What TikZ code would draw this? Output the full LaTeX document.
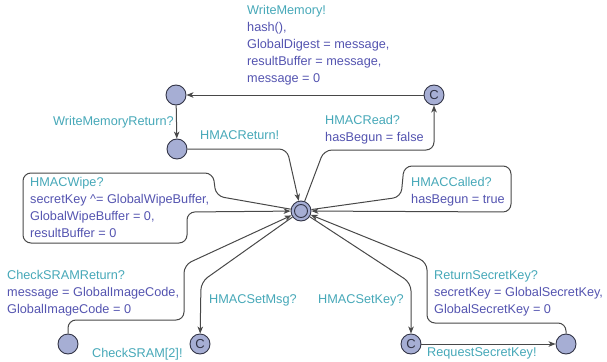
\documentclass[tikz,border=0pt]{standalone}
\usepackage{fontspec}
\setmainfont{Liberation Sans}
\usetikzlibrary{arrows.meta}
\definecolor{synccol}{RGB}{70,168,184}
\definecolor{asgcol}{RGB}{84,84,176}
\definecolor{locfill}{RGB}{166,174,212}
\definecolor{locdraw}{RGB}{50,52,70}
\definecolor{edgecol}{RGB}{72,72,72}
\newcommand\syn[1]{\textcolor{synccol}{#1}}
\newcommand\asg[1]{\textcolor{asgcol}{#1}}
\begin{document}
\begin{tikzpicture}[x=1pt,y=-1pt,
  loc/.style={circle,draw=locdraw,fill=locfill,line width=0.9pt,minimum size=20pt,inner sep=0pt,font=\fontsize{13}{13}\selectfont\color{locdraw}},
  edge/.style={draw=edgecol,line width=1pt,rounded corners=8pt,-{Stealth[length=7pt,width=5.5pt,inset=2pt]}},
  lbl/.style={anchor=base west,inner sep=0pt,font=\fontsize{12.7}{17}\selectfont}]
\useasboundingbox (0,0) rectangle (607,361);
% locations
\node[loc] (tl) at (176,95) {};
\node[loc] (tr) at (434,95) {C};
\node[loc] (ml) at (177,149) {};
\node[loc] (ctr) at (301,211) {};
\draw[locdraw,line width=0.9pt] (ctr.center) circle (6.5);
\node[loc] (bl) at (68,344) {};
\node[loc] (bc) at (200,344) {C};
\node[loc] (brc) at (411,344) {C};
\node[loc] (br) at (566,344) {};
% edges
\draw[edge] (tr) -- (tl);
\draw[edge] (tl) -- (ml);
\draw[edge] (ml.east) -- (287,149) -- (ctr);
\draw[edge] (ctr) -- (324,150) -- (434,150) -- (tr);
\draw[edge] (ctr) -- (401,197) -- (404,166) -- (511,166) -- (511,212) -- (ctr);
\draw[edge] (ctr) -- (216,196) -- (213,173) -- (23,173) -- (23,243) -- (187,243) -- (187,212) -- (ctr);
\draw[edge] (bl) -- (68,320) -- (184,320) -- (184,265) -- (ctr);
\draw[edge] (ctr) -- (201,282) -- (bc);
\draw[edge] (ctr) -- (411,283) -- (brc);
\draw[edge] (brc) -- (br);
\draw[edge] (br) -- (566,323) -- (427,323) -- (427,262) -- (ctr);
% labels
\node[lbl] (l1) at (247,15) {\begin{tabular}[t]{@{}l@{}}\syn{WriteMemory!}\\\asg{hash(),}\\\asg{GlobalDigest = message,}\\\asg{resultBuffer = message,}\\\asg{message = 0}\end{tabular}};
\node[lbl] (l2) at (53,125) {\syn{WriteMemoryReturn?}};
\node[lbl] (l3) at (200,139) {\syn{HMACReturn!}};
\node[lbl] (l4) at (325,124) {\begin{tabular}[t]{@{}l@{}}\syn{HMACRead?}\\\asg{hasBegun = false}\end{tabular}};
\node[lbl] (l5) at (411,186) {\begin{tabular}[t]{@{}l@{}}\syn{HMACCalled?}\\\asg{hasBegun = true}\end{tabular}};
\node[lbl] (l6) at (30,186) {\begin{tabular}[t]{@{}l@{}}\syn{HMACWipe?}\\\asg{secretKey \textasciicircum= GlobalWipeBuffer,}\\\asg{GlobalWipeBuffer = 0,}\\\asg{resultBuffer = 0}\end{tabular}};
\node[lbl] (l7) at (7,279) {\begin{tabular}[t]{@{}l@{}}\syn{CheckSRAMReturn?}\\\asg{message = GlobalImageCode,}\\\asg{GlobalImageCode = 0}\end{tabular}};
\node[lbl] (l8) at (209,303) {\syn{HMACSetMsg?}};
\node[lbl] (l9) at (92,357) {\syn{CheckSRAM[2]!}};
\node[lbl] (l10) at (318,303) {\syn{HMACSetKey?}};
\node[lbl] (l11) at (434,279) {\begin{tabular}[t]{@{}l@{}}\syn{ReturnSecretKey?}\\\asg{secretKey = GlobalSecretKey,}\\\asg{GlobalSecretKey = 0}\end{tabular}};
\node[lbl] (l12) at (427,356) {\syn{RequestSecretKey!}};
\end{tikzpicture}
\end{document}
